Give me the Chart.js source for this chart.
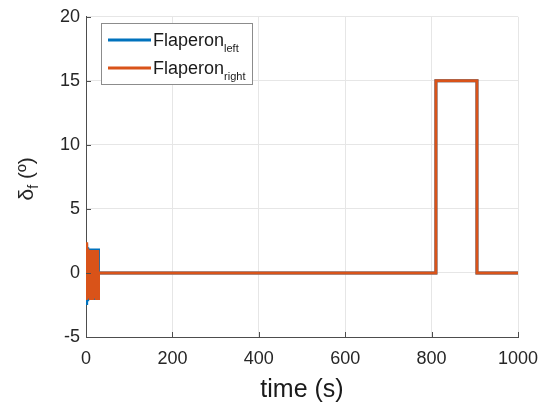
<!DOCTYPE html>
<html>
<head>
<meta charset="utf-8">
<script src="https://cdn.jsdelivr.net/npm/chart.js@4"></script>
<style>
  body { margin: 0; background: #fff; }
</style>
</head>
<body>
<canvas id="chart" width="550" height="407"></canvas>
<script>
// time samples (s) - the first 29 are the start-up chatter
const timeS = [0, 1, 2, 3, 4, 5, 6, 7, 8, 9, 10, 11, 12, 13, 14, 15, 16, 17, 18, 19, 20,
  21, 22, 23, 24, 25, 26, 27, 28, 29, 810, 810, 905, 905, 1000];
// flaperon deflection (deg)
const flapLeft = [0, -2.5, 2.3, -2.1, 2.0, -2.0, 1.9, -2.0, 1.9, -2.0, 1.9, -2.0, 1.9, -2.0, 1.9, -2.0, 1.9, -2.0, 1.9, -2.0, 1.9,
  -2.0, 1.9, -2.0, 1.9, -2.0, 1.9, -2.0, 1.9, 0, 0, 15, 15, 0, 0];
const flapRight = [0, 2.4, -2.1, 1.9, -2.0, 1.8, -2.0, 1.8, -2.0, 1.8, -2.0, 1.8, -2.0, 1.8, -2.0, 1.8, -2.0, 1.8, -2.0, 1.8, -2.0,
  1.8, -2.0, 1.8, -2.0, 1.8, -2.0, 1.8, -2.0, 0, 0, 15, 15, 0, 0];
const seriesNames = ["Flaperon", "Flaperon"];
const seriesSubs = ["left", "right"];
const xTicks = [0, 200, 400, 600, 800, 1000];
const yTicks = [-5, 0, 5, 10, 15, 20];

const blue = "#0072BD";
const orange = "#D95319";
const axisCol = "#4d4d4d";
const FONT = "'Liberation Sans', Arial, sans-serif";

function pts(vals) {
  return timeS.map((t, i) => ({ x: t, y: vals[i] }));
}

// inward ticks, y label with subscript, legend with subscripts
const extras = {
  id: "extras",
  afterDraw(chart) {
    const ctx = chart.ctx;
    const a = chart.chartArea;
    const xs = chart.scales.x, ys = chart.scales.y;
    ctx.save();
    ctx.strokeStyle = axisCol;
    ctx.lineWidth = 1;
    xTicks.forEach((v) => {
      const px = Math.round(xs.getPixelForValue(v)) + 0.5;
      ctx.beginPath();
      ctx.moveTo(px, a.bottom);
      ctx.lineTo(px, a.bottom - 5);
      ctx.stroke();
    });
    yTicks.forEach((v) => {
      const py = Math.round(ys.getPixelForValue(v)) + 0.5;
      ctx.beginPath();
      ctx.moveTo(a.left, py);
      ctx.lineTo(a.left + 5, py);
      ctx.stroke();
    });

    // y axis title: delta_f (º)
    ctx.translate(33, (a.top + a.bottom) / 2 + 2);
    ctx.rotate(-Math.PI / 2);
    ctx.fillStyle = "#262626";
    ctx.textBaseline = "alphabetic";
    ctx.font = "21px " + FONT;
    const w1 = ctx.measureText("δ").width;
    ctx.font = "14px " + FONT;
    const w2 = ctx.measureText("f").width;
    ctx.font = "21px " + FONT;
    const w3 = ctx.measureText(" (º)").width;
    let x0 = -(w1 + w2 + w3) / 2;
    ctx.fillText("δ", x0, 0);
    ctx.font = "14px " + FONT;
    ctx.fillText("f", x0 + w1, 5);
    ctx.font = "21px " + FONT;
    ctx.fillText(" (º)", x0 + w1 + w2, 0);
    ctx.restore();

    // legend box
    ctx.save();
    ctx.fillStyle = "#fff";
    ctx.fillRect(101.5, 23.5, 151, 61);
    ctx.strokeStyle = "#8c8c8c";
    ctx.lineWidth = 1;
    ctx.strokeRect(101.5, 23.5, 151, 61);
    const rows = [40, 68];
    const cols = [blue, orange];
    rows.forEach((y, i) => {
      ctx.strokeStyle = cols[i];
      ctx.lineWidth = 3;
      ctx.beginPath();
      ctx.moveTo(108, y);
      ctx.lineTo(151, y);
      ctx.stroke();
      ctx.fillStyle = "#1a1a1a";
      ctx.textBaseline = "alphabetic";
      ctx.font = "18px " + FONT;
      ctx.fillText(seriesNames[i], 153, y + 6);
      const w = ctx.measureText(seriesNames[i]).width;
      ctx.font = "11px " + FONT;
      ctx.fillText(seriesSubs[i], 153 + w, y + 12);
    });
    ctx.restore();
  }
};

new Chart(document.getElementById("chart"), {
  type: "line",
  data: {
    datasets: [
      {
        label: "Flaperon left",
        data: pts(flapLeft),
        borderColor: blue,
        borderWidth: 3,
        pointRadius: 0,
        fill: false,
        tension: 0,
        order: 2,
      },
      {
        label: "Flaperon right",
        data: pts(flapRight),
        borderColor: orange,
        borderWidth: 3,
        pointRadius: 0,
        fill: false,
        tension: 0,
        order: 1,
      },
    ],
  },
  options: {
    responsive: false,
    animation: false,
    devicePixelRatio: 1,
    layout: { padding: { left: 0, right: 32, top: 15, bottom: 0 } },
    plugins: {
      legend: { display: false },
      tooltip: { enabled: false },
    },
    scales: {
      x: {
        type: "linear",
        min: 0,
        max: 1000,
        afterBuildTicks: (s) => { s.ticks = xTicks.map((v) => ({ value: v })); },
        afterFit: (s) => { s.height = 70; },
        ticks: { color: "#262626", font: { family: FONT, size: 18 }, padding: 11, maxRotation: 0, callback: (v) => String(v) },
        grid: { color: "#e6e6e6", drawTicks: false },
        border: { color: axisCol, width: 1 },
        title: { display: true, text: "time (s)", color: "#1a1a1a", font: { family: FONT, size: 25 }, padding: { top: 0, bottom: 2 } },
      },
      y: {
        min: -5,
        max: 20,
        afterBuildTicks: (s) => { s.ticks = yTicks.map((v) => ({ value: v })); },
        afterFit: (s) => { s.width = 86; },
        ticks: { color: "#262626", font: { family: FONT, size: 18 }, padding: 6, callback: (v) => String(v) },
        grid: { color: "#e6e6e6", drawTicks: false },
        border: { color: axisCol, width: 1 },
      },
    },
  },
  plugins: [extras],
});
</script>
</body>
</html>
